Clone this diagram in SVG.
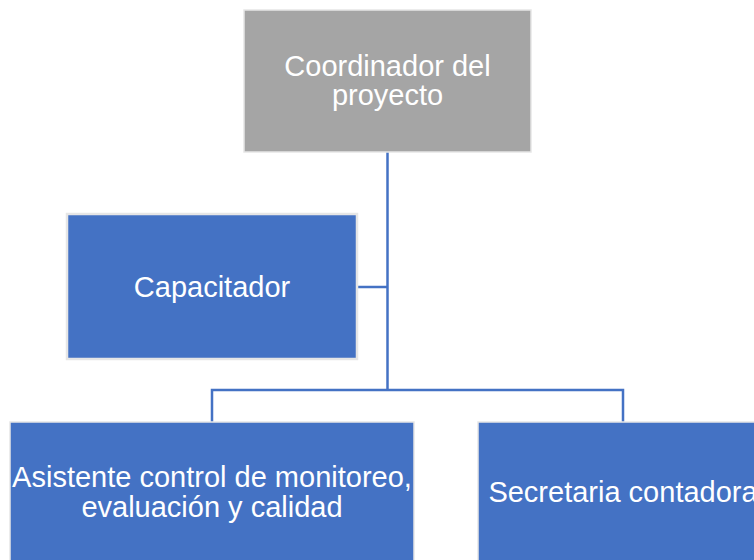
<svg xmlns="http://www.w3.org/2000/svg" width="754" height="560" viewBox="0 0 754 560">
<style>
.box{fill:#4472C4;stroke:#E6E6E6;stroke-width:1.5}
.gray{fill:#A5A5A5;stroke:#E6E6E6;stroke-width:1.5}
.lbl{font-family:"Liberation Sans",Arial,sans-serif;font-size:29px;fill:#FFFFFF;text-anchor:middle}
.con{fill:none;stroke:#4472C4;stroke-width:2.5}
</style>
<rect width="754" height="560" fill="#FFFFFF"/>
<g id="connectors">
<path class="con" d="M387.5,152 V390"/>
<path class="con" d="M357,287 H387.5"/>
<path class="con" d="M212,422 V390 H623 V422"/>
</g>
<g id="coordinador">
<rect class="gray" x="244" y="10" width="287" height="142"/>
<text class="lbl" x="387.5" y="76">Coordinador del</text>
<text class="lbl" x="387.5" y="105">proyecto</text>
</g>
<g id="capacitador">
<rect class="box" x="67" y="214" width="290" height="145" style="stroke-width:2.5"/>
<text class="lbl" x="212" y="297">Capacitador</text>
</g>
<g id="asistente">
<rect class="box" x="10" y="422" width="404" height="145"/>
<text class="lbl" x="212" y="487">Asistente control de monitoreo,</text>
<text class="lbl" x="212" y="517">evaluación y calidad</text>
</g>
<g id="secretaria">
<rect class="box" x="478" y="422" width="290" height="145"/>
<text class="lbl" x="623" y="502">Secretaria contadora</text>
</g>
</svg>
